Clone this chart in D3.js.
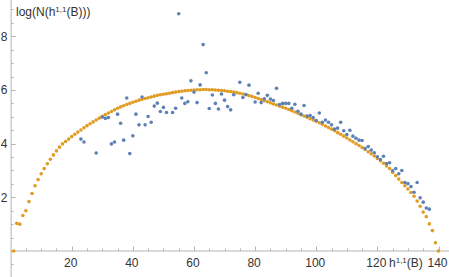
<!DOCTYPE html>
<html>
<head>
<meta charset="utf-8">
<script src="https://cdn.jsdelivr.net/npm/d3@7"></script>
<style>
  body { margin: 0; background: #fff; }
  svg text { font-family: "Liberation Sans", Arial, sans-serif; fill: #333; }
</style>
</head>
<body>
<div id="chart"></div>
<script>
// Data
var orangeX = d3.range(1, 141);
var orangeY = [
  0.00, 1.03, 1.00, 1.32, 1.50, 1.84, 2.14, 2.43, 2.66, 2.88,
  3.07, 3.25, 3.42, 3.58, 3.73, 3.87, 3.99, 4.08, 4.17, 4.26,
  4.35, 4.43, 4.51, 4.59, 4.67, 4.74, 4.81, 4.88, 4.95, 5.02,
  5.08, 5.14, 5.20, 5.26, 5.32, 5.37, 5.41, 5.46, 5.50, 5.54,
  5.58, 5.62, 5.65, 5.68, 5.71, 5.74, 5.77, 5.80, 5.82, 5.84,
  5.86, 5.88, 5.90, 5.92, 5.94, 5.95, 5.97, 5.98, 5.99, 6.00,
  6.01, 6.01, 6.02, 6.02, 6.01, 6.01, 6.00, 5.99, 5.98, 5.97,
  5.95, 5.94, 5.92, 5.90, 5.88, 5.85, 5.82, 5.79, 5.76, 5.72,
  5.68, 5.64, 5.60, 5.56, 5.52, 5.48, 5.44, 5.40, 5.36, 5.32,
  5.27, 5.23, 5.18, 5.13, 5.08, 5.03, 4.98, 4.93, 4.88, 4.83,
  4.78, 4.72, 4.66, 4.60, 4.54, 4.48, 4.41, 4.35, 4.28, 4.21,
  4.14, 4.07, 4.00, 3.93, 3.86, 3.78, 3.70, 3.62, 3.54, 3.45,
  3.36, 3.27, 3.17, 3.07, 2.93, 2.81, 2.68, 2.55, 2.43, 2.31,
  2.18, 2.04, 1.86, 1.67, 1.45, 1.28, 1.01, 0.76, 0.31, 0.00
];

var blueX = [
  23, 24, 28, 30, 31, 32, 33, 34, 35, 36, 37, 38, 39, 40, 41, 42, 43, 44, 45, 46,
  47, 48, 49, 50, 51, 53, 54, 55, 56, 57, 58, 59, 60, 61, 62, 63, 64, 65, 66, 67,
  68, 69, 70, 71, 72, 73, 75, 76, 77, 78, 80, 81, 82, 83, 84, 85, 86, 87, 88, 89,
  90, 91, 92, 93, 94, 95, 96, 97, 98, 99, 100, 101, 102, 103, 104, 105, 106, 107, 108, 109,
  110, 111, 112, 113, 114, 115, 116, 117, 118, 119, 120, 121, 122, 123, 124, 125, 126, 127, 128, 129,
  130, 131, 132, 133, 134, 135, 136, 137
];
var blueY = [
  4.17, 4.06, 3.65, 4.99, 4.94, 4.97, 3.99, 4.06, 5.10, 4.76, 4.13, 5.70, 3.63, 4.29, 5.10, 4.70, 5.74, 4.70, 5.01, 4.80,
  5.40, 5.51, 5.20, 5.35, 5.16, 5.16, 5.32, 8.84, 5.70, 5.50, 5.56, 6.34, 5.92, 5.53, 6.19, 7.69, 6.64, 5.31, 5.81, 5.50,
  5.29, 5.85, 5.62, 5.38, 5.26, 5.82, 6.29, 5.72, 5.83, 6.18, 5.55, 5.88, 5.53, 5.67, 5.80, 5.66, 5.61, 6.06, 5.46, 5.50,
  5.50, 5.50, 5.32, 5.47, 5.21, 5.10, 5.42, 5.03, 5.05, 4.97, 4.86, 5.14, 4.80, 4.88, 4.80, 4.70, 4.54, 4.58, 4.80, 4.48,
  4.34, 4.50, 4.28, 4.20, 4.13, 4.12, 3.82, 3.89, 3.76, 3.66, 3.51, 3.41, 3.53, 3.26, 3.29, 2.99, 3.07, 2.88, 3.00, 2.55,
  2.51, 2.40, 2.19, 2.55, 1.98, 1.82, 1.60, 1.56
];

var xMajor = [20, 40, 60, 80, 100, 120, 140];
var yMajor = [2, 4, 6, 8];
var yTitle = "log(N(h";
var xTitle = "h";

var W = 449, H = 277;
var axisColor = "#b4b4b4";
var orange = "#e19c24", blue = "#5e81b5";

var x = d3.scaleLinear().domain([0, 140]).range([10.6, 438.5]);
var y = d3.scaleLinear().domain([0, 8]).range([251, 36.3]);

var svg = d3.select("#chart").append("svg")
  .attr("width", W).attr("height", H);

// axes lines
svg.append("line")
  .attr("x1", x(0)).attr("x2", W)
  .attr("y1", y(0)).attr("y2", y(0))
  .attr("stroke", axisColor);
svg.append("line")
  .attr("x1", x(0) + 0.5).attr("x2", x(0) + 0.5)
  .attr("y1", 0).attr("y2", H)
  .attr("stroke", axisColor);

// x ticks (major + minor every 5)
var xMinor = d3.range(5, 145, 5);
svg.append("g").selectAll("line").data(xMinor).enter().append("line")
  .attr("x1", function(d) { return Math.round(x(d)) + 0.5; })
  .attr("x2", function(d) { return Math.round(x(d)) + 0.5; })
  .attr("y1", y(0))
  .attr("y2", function(d) { return y(0) - (d % 20 === 0 ? 4.5 : 2.5); })
  .attr("stroke", axisColor);
svg.append("g").selectAll("text").data(xMajor).enter().append("text")
  .attr("x", function(d) { return x(d) - 1; })
  .attr("y", 266.5)
  .attr("text-anchor", "middle")
  .attr("font-size", 12)
  .text(function(d) { return d; });

// y ticks (major + minor every 0.5)
var yMinor = d3.range(-0.5, 9.01, 0.5);
svg.append("g").selectAll("line").data(yMinor).enter().append("line")
  .attr("x1", x(0) + 0.5)
  .attr("x2", function(d) { return x(0) + 0.5 + (d % 2 === 0 ? 4.5 : 2.5); })
  .attr("y1", function(d) { return Math.round(y(d)) + 0.5; })
  .attr("y2", function(d) { return Math.round(y(d)) + 0.5; })
  .attr("stroke", axisColor);
svg.append("g").selectAll("text").data(yMajor).enter().append("text")
  .attr("x", 7.5)
  .attr("y", function(d) { return y(d) + 4.3; })
  .attr("text-anchor", "end")
  .attr("font-size", 12)
  .text(function(d) { return d; });

// axis titles
var t1 = svg.append("text").attr("x", 16).attr("y", 16).attr("font-size", 12);
t1.append("tspan").text(yTitle);
t1.append("tspan").attr("font-size", 8).attr("dy", -4).text("1,1");
t1.append("tspan").attr("dy", 4).text("(B)))");

var t2 = svg.append("text").attr("x", 389).attr("y", 266.5).attr("font-size", 12);
t2.append("tspan").text(xTitle);
t2.append("tspan").attr("font-size", 8).attr("dy", -4).text("1,1");
t2.append("tspan").attr("dy", 4).text("(B)");

// points
svg.append("g").selectAll("circle").data(orangeX).enter().append("circle")
  .attr("cx", function(d) { return x(d); })
  .attr("cy", function(d, i) { return y(orangeY[i]); })
  .attr("r", 1.8)
  .attr("fill", orange);

svg.append("g").selectAll("circle").data(blueX).enter().append("circle")
  .attr("cx", function(d) { return x(d); })
  .attr("cy", function(d, i) { return y(blueY[i]); })
  .attr("r", 1.8)
  .attr("fill", blue);
</script>
</body>
</html>
